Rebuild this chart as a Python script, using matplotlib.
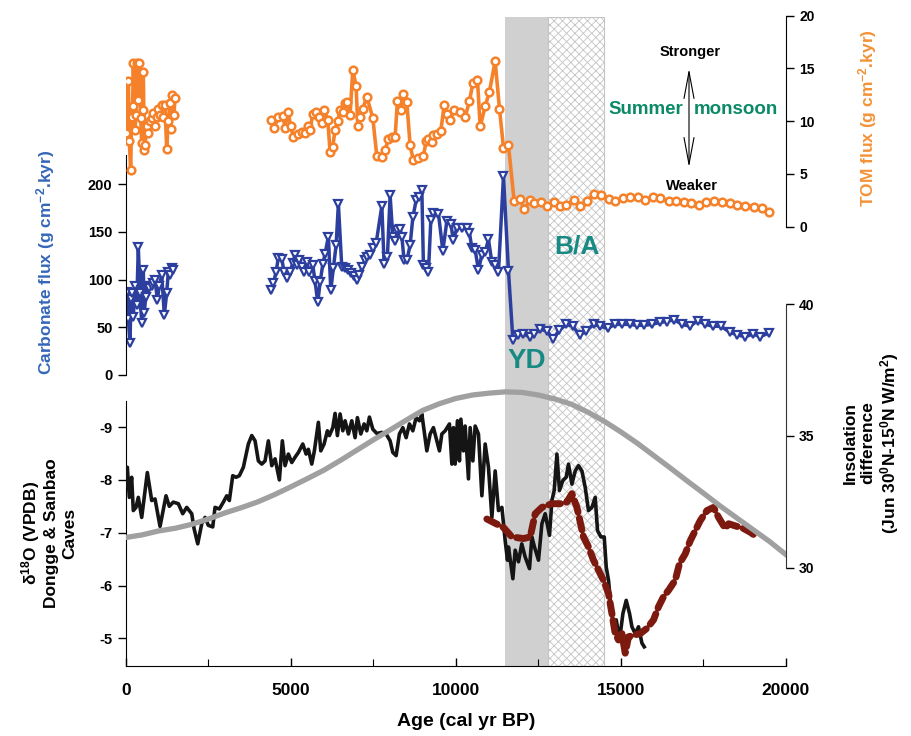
import numpy as np
import matplotlib
matplotlib.use('Agg')
import matplotlib.pyplot as plt
from matplotlib.patches import Rectangle, FancyArrowPatch

plt.rcParams['font.family'] = ['Liberation Sans', 'DejaVu Sans']
plt.rcParams['font.weight'] = 'bold'
plt.rcParams['axes.unicode_minus'] = False
plt.rcParams['mathtext.fontset'] = 'custom'
plt.rcParams['mathtext.rm'] = 'Liberation Sans:bold'
plt.rcParams['mathtext.bf'] = 'Liberation Sans:bold'
plt.rcParams['mathtext.default'] = 'rm'
plt.rcParams['hatch.linewidth'] = 0.6

# TOM flux (g cm-2.kyr), orange
tom_age = [9, 80, 110, 150, 180, 210, 232, 282, 312, 352, 382, 412, 455, 485, 515, 533, 564, 585,
           635, 685, 735, 785, 836, 886, 937, 987, 1038, 1088, 1139, 1190, 1242, 1290, 1340, 1371,
           1412, 1462, 1492,
           4403, 4495, 4626, 4757, 4827, 4918, 5000, 5080, 5230, 5333, 5433, 5515, 5585, 5667, 5767,
           5867, 5939, 6018, 6121, 6191, 6272, 6342, 6424, 6494, 6576, 6645, 6715, 6797, 6879, 6979,
           7030, 7100, 7182, 7303, 7485, 7606, 7757, 7858, 7958, 8060, 8160, 8230, 8333, 8412, 8515,
           8615, 8715, 8848, 9018, 9100, 9170, 9273, 9321, 9424, 9545, 9645, 9745, 9827, 9948, 10130,
           10282, 10412, 10515, 10655, 10736, 10888, 11018, 11190, 11321, 11442, 11594,
           11767, 11928, 12079, 12252, 12382, 12576, 12758, 12958, 13161, 13342, 13564, 13746, 13970,
           14170, 14394, 14624, 14827, 15060, 15282, 15503, 15736, 15970, 16191, 16443, 16676, 16897,
           17130, 17364, 17585, 17806, 18061, 18291, 18515, 18767, 19018, 19273, 19494]
tom_flux = [8.9, 13.8, 8.1, 5.4, 10.4, 11.4, 15.5, 9.2, 10.6, 15.5, 12.0, 15.5, 10.3, 7.9, 11.1, 14.7,
            7.3, 7.7, 9.5, 8.9, 10.0, 10.3, 10.8, 9.5, 10.4, 11.2, 10.6, 11.5, 10.4, 11.5, 7.4, 10.0,
            11.7, 9.3, 12.5, 10.6, 12.2,
            10.1, 9.4, 10.4, 10.5, 9.4, 10.9, 9.5, 8.5, 8.8, 9.0, 8.9, 9.5, 9.2, 10.7, 10.9,
            10.4, 9.8, 11.1, 10.1, 7.1, 7.6, 9.2, 10.0, 11.1, 10.9, 11.7, 11.8, 10.6, 14.9, 13.3,
            9.5, 10.4, 11.2, 12.3, 10.3, 6.7, 6.6, 7.3, 8.3, 8.5, 8.5, 11.9, 11.1, 12.6, 11.8,
            7.7, 6.3, 6.5, 6.7, 8.1, 8.3, 8.0, 8.7, 8.8, 9.1, 11.5, 10.7, 10.1, 11.1, 10.9,
            10.4, 11.9, 13.6, 13.9, 9.5, 11.4, 12.8, 15.7, 11.2, 7.5, 7.7,
            2.4, 2.6, 1.7, 2.5, 2.2, 2.3, 2.0, 2.3, 2.0, 2.1, 2.5, 2.0, 2.4,
            3.1, 3.0, 2.6, 2.4, 2.7, 2.8, 2.8, 2.5, 2.8, 2.7, 2.4, 2.4, 2.3,
            2.2, 2.1, 2.3, 2.4, 2.3, 2.2, 2.1, 2.0, 1.9, 1.8, 1.4]

# Carbonate flux (g cm-2.kyr), blue
carb_age = [9, 30, 80, 130, 160, 200, 230, 282, 333, 382, 433, 485, 533, 564, 606, 655, 715, 788,
            836, 888, 958, 1018, 1091, 1170, 1242, 1291, 1342, 1394, 1442,
            4394, 4473, 4555, 4624, 4727, 4797, 4879, 4979, 5061, 5130, 5200, 5261, 5333, 5403, 5485,
            5564, 5667, 5736, 5818, 5888, 5970, 6039, 6139, 6212, 6291, 6373, 6442, 6545, 6645, 6727,
            6818, 6918, 7000, 7079, 7161, 7242, 7321, 7403, 7503, 7585, 7758, 7827, 7927, 8009, 8091,
            8161, 8230, 8312, 8364, 8433, 8515, 8615, 8697, 8797, 8897, 8970, 9018, 9100, 9170, 9242,
            9321, 9473, 9606, 9727, 9848, 9927, 10030, 10182, 10333, 10412, 10485, 10585, 10685, 10788,
            10888, 10988, 11091, 11191, 11291, 11442, 11594,
            11727, 11897, 12049, 12231, 12373, 12555, 12758, 12939, 13139, 13342, 13545, 13746, 13948,
            14170, 14373, 14594, 14827, 15030, 15261, 15485, 15706, 15939, 16170, 16394, 16615, 16848,
            17100, 17321, 17555, 17788, 18030, 18291, 18515, 18767, 19000, 19221, 19473]
carb_flux = [58, 87, 59, 33, 80, 86, 61, 93, 73, 134, 86, 54, 110, 65, 82, 93, 91, 93,
             96, 100, 79, 93, 105, 63, 86, 108, 105, 112, 110,
             89, 96, 108, 123, 122, 108, 102, 108, 117, 126, 115, 120, 113, 108, 118,
             108, 115, 98, 76, 97, 116, 127, 145, 89, 112, 136, 179, 113, 112, 110,
             107, 104, 100, 105, 113, 120, 124, 126, 133, 138, 177, 116, 124, 188, 145,
             140, 152, 153, 145, 120, 120, 136, 165, 183, 186, 194, 115, 112, 108, 162,
             170, 169, 130, 161, 158, 141, 154, 154, 154, 149, 133, 131, 110, 126,
             129, 142, 118, 115, 108, 208, 109,
             37, 42, 43, 40, 43, 48, 46, 38, 47, 53, 51, 42, 46,
             53, 51, 49, 53, 53, 53, 52, 52, 53, 55, 56, 58, 53,
             51, 57, 53, 51, 51, 45, 42, 40, 43, 40, 44]

# Dongge & Sanbao d18O (VPDB), black
d18o_age = [0, 50, 110, 180, 230, 312, 382, 485, 655, 788, 888, 1040, 1221, 1321, 1442, 1594, 1727,
            1848, 2000, 2070, 2182, 2303, 2403, 2503, 2636, 2706, 2836, 2958, 3061, 3139, 3242, 3342,
            3442, 3564, 3715, 3818, 3918, 4018, 4121, 4221, 4321, 4424, 4524, 4655, 4745, 4827, 4927,
            5030, 5130, 5230, 5364, 5464, 5533, 5636, 5715, 5836, 5909, 6009, 6109, 6170, 6273, 6342,
            6412, 6494, 6576, 6645, 6745, 6848, 6948, 7018, 7121, 7221, 7303, 7382, 7485, 7606, 7758,
            7888, 8009, 8091, 8191, 8291, 8394, 8494, 8594, 8697, 8797, 8897, 8970, 9039, 9121, 9221,
            9321, 9424, 9503, 9576, 9676, 9806, 9879, 9927, 9979, 10048, 10109, 10152, 10230, 10282,
            10382, 10433, 10515, 10585, 10685, 10788, 10888, 10988, 11091, 11191, 11291, 11394, 11494,
            11564, 11594, 11727, 11797, 11897, 11997, 12100, 12230, 12303, 12382, 12503, 12606, 12706,
            12836, 12909, 12979, 13061, 13139, 13242, 13342, 13412, 13515, 13615, 13715, 13818, 13918,
            14018, 14121, 14221, 14291, 14394, 14494, 14555, 14624, 14697, 14776, 14858, 14958, 15060,
            15160, 15261, 15333, 15433, 15533, 15636, 15706]
d18o = [-7.89, -8.24, -7.67, -8.05, -7.42, -7.48, -7.67, -7.29, -8.14, -7.61, -7.64, -7.12, -7.70,
        -7.50, -7.58, -7.55, -7.36, -7.48, -7.36, -7.08, -6.79, -7.17, -7.29, -7.14, -7.11, -7.48,
        -7.45, -7.58, -7.70, -7.61, -8.08, -8.05, -8.08, -8.24, -8.68, -8.84, -8.74, -8.36, -8.30,
        -8.36, -8.74, -8.27, -8.40, -8.00, -8.74, -8.27, -8.49, -8.33, -8.43, -8.52, -8.68, -8.49,
        -8.58, -8.30, -8.55, -9.09, -8.55, -8.68, -8.93, -8.84, -8.99, -9.26, -8.84, -9.25, -8.93,
        -9.12, -8.87, -9.12, -8.80, -9.18, -8.87, -9.06, -8.93, -9.19, -8.96, -8.88, -8.90, -8.87,
        -8.74, -8.52, -8.46, -8.87, -8.99, -8.80, -9.06, -8.93, -9.18, -9.12, -9.25, -8.93, -8.55,
        -8.87, -8.99, -8.74, -8.55, -8.87, -8.93, -9.06, -8.30, -8.99, -8.30, -9.12, -8.36, -9.15,
        -8.55, -9.02, -8.02, -8.99, -8.36, -9.02, -8.87, -7.70, -8.68, -8.24, -7.29, -8.17, -7.42,
        -7.48, -6.85, -6.48, -6.73, -6.13, -6.67, -6.45, -6.79, -6.54, -6.32, -6.92, -6.73, -6.48,
        -7.17, -7.36, -6.95, -7.61, -7.80, -8.49, -7.80, -7.99, -8.05, -8.30, -7.92, -8.17, -8.27,
        -8.17, -7.86, -7.42, -7.48, -7.67, -7.04, -6.92, -6.92, -6.35, -6.10, -5.60, -5.22, -5.35,
        -4.97, -5.47, -5.72, -5.47, -5.22, -5.09, -5.22, -4.91, -4.84]

# second d18O record, dark red dashed
red_age = [10939, 11442, 11697, 12049, 12252, 12403, 12606, 12909, 13161, 13364, 13515, 13667, 13767,
           13867, 14018, 14170, 14321, 14473, 14624, 14727, 14827, 14927, 15030, 15130, 15230, 15382,
           15585, 15788, 15988, 16139, 16291, 16442, 16645, 16776, 16948, 17100, 17252, 17403, 17606,
           17806, 17958, 18161, 18261, 18715, 18918, 19121]
red_d18o = [-7.26, -7.10, -6.92, -6.89, -6.92, -7.36, -7.48, -7.55, -7.55, -7.58, -7.74, -7.48, -7.20,
            -6.92, -6.73, -6.48, -6.29, -6.10, -5.85, -5.47, -5.09, -4.97, -5.09, -4.72, -5.03, -5.06,
            -5.09, -5.19, -5.35, -5.60, -5.79, -5.91, -6.10, -6.42, -6.60, -6.85, -7.04, -7.23, -7.42,
            -7.48, -7.29, -7.08, -7.17, -7.08, -7.01, -6.92]

# insolation difference (Jun 30N-15N W/m2), gray
ins_age = [0, 500, 1000, 1500, 2000, 2500, 3000, 3500, 4000, 4500, 5000, 5500, 6000, 6500, 7000,
           7500, 8000, 8500, 9000, 9500, 10000, 10500, 11000, 11500, 12000, 12500, 13000, 13500,
           14000, 14500, 15000, 15500, 16000, 16500, 17000, 17500, 18000, 18500, 19000, 19500, 20000]
ins = [31.15, 31.25, 31.4, 31.5, 31.65, 31.85, 32.08, 32.28, 32.5, 32.77, 33.07, 33.38, 33.7, 34.07,
       34.46, 34.85, 35.22, 35.6, 35.97, 36.22, 36.42, 36.55, 36.62, 36.67, 36.65, 36.55, 36.4, 36.2,
       35.9, 35.55, 35.15, 34.72, 34.25, 33.78, 33.3, 32.83, 32.35, 31.9, 31.45, 31.0, 30.5]

yd = (11500, 12800)
ba = (12800, 14500)


def segments(age, val, gap=1500):
    age = np.asarray(age, dtype=float)
    val = np.asarray(val, dtype=float)
    cut = np.where(np.diff(age) > gap)[0] + 1
    return zip(np.split(age, cut), np.split(val, cut))


W, H = 912, 736
fig = plt.figure(figsize=(W / 100, H / 100), dpi=100)

x0 = 125.7 / W
xw = (786 - 125.7) / W


def box(top, bottom):
    return [x0, 1 - bottom / H, xw, (bottom - top) / H]


# background shading
bg = fig.add_axes(box(17, 666))
bg.set_xlim(0, 20000)
bg.set_ylim(0, 1)
bg.axis('off')
bg.add_patch(Rectangle((yd[0], 0), yd[1] - yd[0], 1, facecolor='#d0d0d0', edgecolor='none'))
bg.add_patch(Rectangle((ba[0], 0), ba[1] - ba[0], 1, facecolor='white', edgecolor='#c4c4c4',
                       hatch='xxxx', lw=0.8))

# bottom d18O panel
ax = fig.add_axes(box(400.7, 666))
ax.patch.set_alpha(0)
ax.set_xlim(0, 20000)
ax.set_ylim(-4.477, -9.5)
ax.spines[['top', 'right']].set_visible(False)
ax.set_xticks([0, 5000, 10000, 15000, 20000])
ax.set_xticks([2500, 7500, 12500, 17500], minor=True)
ax.tick_params(axis='x', direction='in', length=6, width=1, labelsize=12.5, pad=12)
ax.tick_params(axis='x', which='minor', direction='in', length=5, width=0.8)
ax.set_yticks([-9, -8, -7, -6, -5])
ax.tick_params(axis='y', direction='out', length=6, width=1, labelsize=10.5)
ax.plot(d18o_age, d18o, color='#151515', lw=2.6, zorder=3)
ax.plot(red_age, red_d18o, color='#7d1a10', lw=5, dashes=(1.7, 0.9),
        dash_capstyle='round', solid_capstyle='round', zorder=4)

# insolation panel
ai = fig.add_axes(box(304, 666))
ai.patch.set_alpha(0)
ai.set_xlim(0, 20000)
ai.set_ylim(26.28, 40)
for s in ['top', 'left', 'bottom']:
    ai.spines[s].set_visible(False)
ai.spines['right'].set_bounds(30, 40)
ai.spines['right'].set_color('#333333')
ai.yaxis.tick_right()
ai.set_yticks([30, 35, 40])
ai.set_xticks([])
ai.tick_params(axis='y', direction='out', length=6, width=1, labelsize=10)
ai.plot(ins_age, ins, color='#a0a0a0', lw=3.8, zorder=2)

# carbonate flux panel
ac = fig.add_axes(box(155, 375))
ac.patch.set_alpha(0)
ac.set_xlim(0, 20000)
ac.set_ylim(0, 230.4)
for s in ['top', 'right', 'bottom']:
    ac.spines[s].set_visible(False)
ac.set_xticks([])
ac.set_yticks([0, 50, 100, 150, 200])
ac.tick_params(axis='y', direction='out', length=6, width=1, labelsize=10.5)
for a, v in segments(carb_age, carb_flux):
    ac.plot(a, v, color='#2c3f9e', lw=2.5, marker='v', ms=5.5, mfc='white', mec='#2c3f9e', mew=1.6)

# TOM flux panel
at = fig.add_axes(box(15.7, 226.7))
at.patch.set_alpha(0)
at.set_xlim(0, 20000)
at.set_ylim(0, 20)
for s in ['top', 'left', 'bottom']:
    at.spines[s].set_visible(False)
at.yaxis.tick_right()
at.set_xticks([])
at.set_yticks([0, 5, 10, 15, 20])
at.tick_params(axis='y', direction='out', length=6, width=1, labelsize=10)
for a, v in segments(tom_age, tom_flux):
    at.plot(a, v, color='#f5822a', lw=2.6, marker='o', ms=5.5, mfc='white', mec='#f5822a', mew=1.8)


def fx(x, y):
    return x / W, 1 - y / H


# axis labels
fig.text(*fx(46, 262), 'Carbonate flux (g cm$^{-2}$.kyr)', rotation=90, color='#3566b8',
         fontsize=12.5, ha='center', va='center')
fig.text(*fx(868, 118), 'TOM flux (g cm$^{-2}$.kyr)', rotation=90, color='#f39237',
         fontsize=12.5, ha='center', va='center')
fig.text(*fx(48, 533), 'δ$^{18}$O (VPDB)\nDongge & Sanbao\nCaves', rotation=90, color='black',
         fontsize=12.5, ha='center', va='center', multialignment='center', linespacing=1.2)
fig.text(*fx(872, 443), 'Insolation\ndifference\n(Jun 30$^{0}$N-15$^{0}$N W/m$^{2}$)', rotation=90,
         color='black', fontsize=12.5, ha='center', va='center', multialignment='center',
         linespacing=1.2)
fig.text(*fx(466, 722), 'Age (cal yr BP)', fontsize=14, ha='center', va='center')

# annotations
fig.text(*fx(690, 52), 'Stronger', fontsize=10.5, ha='center', va='center')
fig.text(*fx(692, 186), 'Weaker', fontsize=10.5, ha='center', va='center')
fig.text(*fx(646, 109), 'Summer', fontsize=13.5, color='#0b8a66', ha='center', va='center')
fig.text(*fx(736, 109), 'monsoon', fontsize=13.5, color='#0b8a66', ha='center', va='center')
fig.text(*fx(577, 247), 'B/A', fontsize=19, color='#178a84', ha='center', va='center')
fig.text(*fx(527, 361), 'YD', fontsize=20, color='#178a84', ha='center', va='center')
fig.add_artist(FancyArrowPatch(
    fx(689, 66), fx(689, 170), transform=fig.transFigure,
    arrowstyle='<->,head_length=1.6,head_width=0.3', mutation_scale=12, lw=0.8, color='black'))

fig.savefig('out.png', dpi=100)
